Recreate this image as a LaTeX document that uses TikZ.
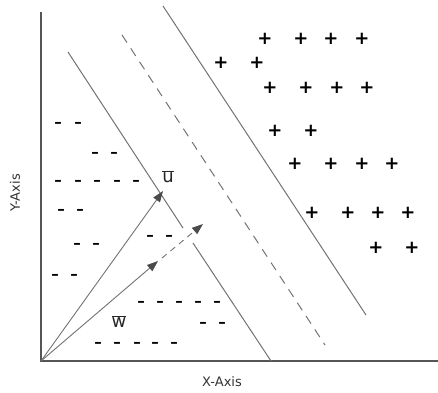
\documentclass[tikz,border=0pt]{standalone}
\usepackage{fontspec}
\setmainfont{DejaVu Sans}
\usetikzlibrary{arrows.meta}
\definecolor{axisgray}{RGB}{85,85,85}
\definecolor{linegray}{RGB}{115,115,115}
\definecolor{tipgray}{RGB}{75,75,75}
\tikzset{
  axisline/.style={draw=axisgray,line width=1.3pt},
  sepline/.style={draw=linegray,line width=1pt},
  midline/.style={draw=linegray,line width=1pt,dash pattern=on 9pt off 7pt},
  vecarrow/.style={draw=linegray,line width=0.9pt,-{Triangle[length=11pt,width=8pt,fill=tipgray,color=tipgray]}},
  extarrow/.style={draw=linegray,line width=0.9pt,dash pattern=on 6pt off 5pt,-{Triangle[length=11pt,width=8pt,fill=tipgray,color=tipgray]}},
  plussign/.style={inner sep=0pt,font=\fontsize{18}{18}\selectfont\bfseries},
  minussign/.style={inner sep=0pt,font=\fontsize{15}{15}\selectfont\bfseries},
  axislabel/.style={inner sep=0pt,font=\fontsize{13}{15}\selectfont,text=black!80},
  veclabel/.style={inner sep=0pt,font=\fontsize{18}{19}\selectfont,text=black!85}
}
\begin{document}
\begin{tikzpicture}[x=1pt,y=-1pt]
\useasboundingbox[fill=white] (0,0) rectangle (438,392);
% axes
\coordinate (O) at (41,361);
\coordinate (ytop) at (41,12);
\coordinate (xend) at (438,361);
\draw[axisline] (ytop) -- (O) -- (xend);
\node[axislabel] (xlab) at (222,382) {X-Axis};
\node[axislabel,rotate=90] (ylab) at (15,193) {Y-Axis};
% separating lines
\coordinate (L1) at (68,52);
\coordinate (Lg1) at (183,228);
\coordinate (Lg2) at (193,243);
\coordinate (L2) at (271,361);
\draw[sepline] (L1) -- (Lg1);
\draw[sepline] (Lg2) -- (L2);
\coordinate (M1) at (122,35);
\coordinate (M2) at (325,345);
\draw[midline] (M1) -- (M2);
\coordinate (R1) at (163,6);
\coordinate (R2) at (366,315);
\draw[sepline] (R1) -- (R2);
% vectors
\coordinate (U) at (163,191);
\coordinate (W) at (158,261);
\coordinate (W0) at (162,258);
\coordinate (W2) at (203,224);
\draw[vecarrow] (O) -- (U);
\draw[vecarrow] (O) -- (W);
\draw[extarrow] (W0) -- (W2);
\node[veclabel] (ulab) at (168,177) {$\overline{\mbox{u}}$};
\node[veclabel] (wlab) at (119,322) {$\overline{\mbox{w}}$};
% minus signs
\foreach \x/\y [count=\i] in {58/125,78/125, 95/155,114/155,
  58/183,78/183,97/183,117/183,136/183, 61/212,80/212,
  77/246,96/246, 150/238,169/238, 55/277,74/277,
  141/304,160/304,179/304,198/304,217/304, 203/325,222/325,
  98/345,117/345,137/345,155/345,174/345}
  \node[minussign] (m\i) at (\x,\y) {–};
% plus signs
\foreach \x/\y [count=\i] in {265/39,301/39,331/39,362/39,
  221/63,257/63, 270/88,306/88,337/88,367/88, 275/131,311/131,
  295/164,331/164,362/164,392/164, 312/213,348/213,378/213,408/213,
  376/248,412/248}
  \node[plussign] (p\i) at (\x,\y) {+};
\end{tikzpicture}
\end{document}
